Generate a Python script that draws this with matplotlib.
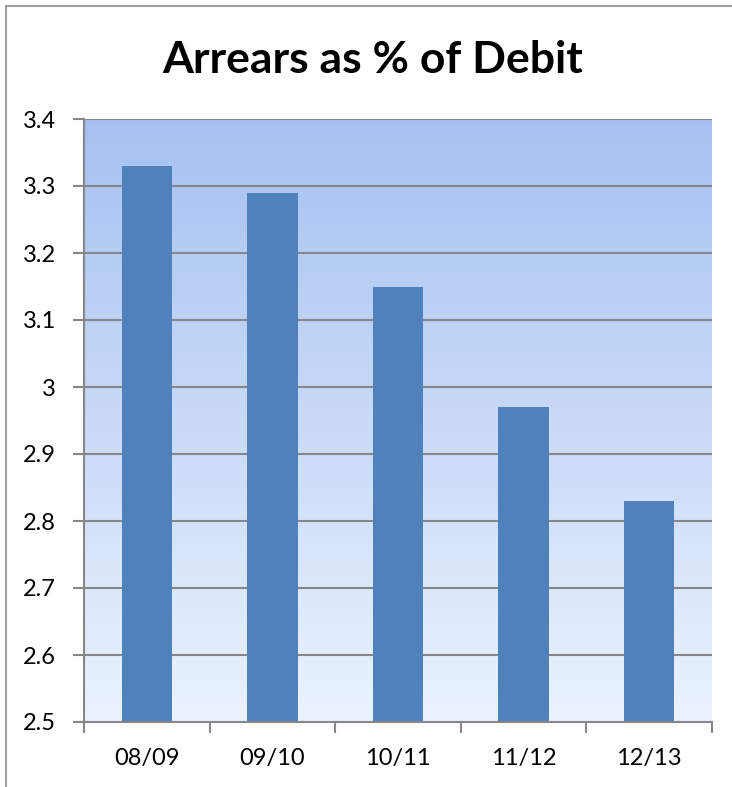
import numpy as np
import matplotlib.pyplot as plt
from matplotlib.lines import Line2D

categories = ["08/09", "09/10", "10/11", "11/12", "12/13"]
values = [3.33, 3.29, 3.15, 2.97, 2.83]
yticks = [2.5, 2.6, 2.7, 2.8, 2.9, 3.0, 3.1, 3.2, 3.3, 3.4]
ytick_labels = ["2.5", "2.6", "2.7", "2.8", "2.9", "3", "3.1", "3.2", "3.3", "3.4"]

BAR = "#4f81bd"
GRID = "#878787"
W, H = 732, 787

plt.rcParams["font.family"] = ["Lato", "DejaVu Sans"]

fig = plt.figure(figsize=(W / 100, H / 100), dpi=100)
ax = fig.add_axes([84 / W, (H - 722) / H, 628 / W, 603 / H])

# gradient background of the plot area
grad = np.linspace(0, 1, 256).reshape(-1, 1)
top = np.array([166, 193, 240]) / 255
bottom = np.array([235, 243, 254]) / 255
img = bottom + (top - bottom) * grad
ax.imshow(img[:, None, :].repeat(2, axis=1), extent=[0, 1, 0, 1], transform=ax.transAxes,
          origin="lower", aspect="auto", zorder=0)

x = np.arange(len(categories))
ax.bar(x, [v - 2.5 for v in values], bottom=2.5, width=0.4, color=BAR, zorder=3)

ax.set_xlim(-0.5, len(categories) - 0.5)
ax.set_ylim(2.5, 3.4)
ax.set_yticks(yticks)
ax.set_yticklabels(ytick_labels, fontsize=17)
ax.yaxis.grid(True, color=GRID, linewidth=1.5)
ax.set_axisbelow(False)
for gl in ax.get_ygridlines():
    gl.set_zorder(1)

ax.set_xticks(np.arange(-0.5, len(categories), 1.0))
ax.set_xticklabels([])
ax.set_xticks(x, minor=True)
ax.set_xticklabels(categories, minor=True, fontsize=17)
ax.tick_params(axis="x", which="major", length=8, width=1.5, color=GRID, direction="out")
ax.tick_params(axis="x", which="minor", length=0, pad=19)
ax.tick_params(axis="y", length=8, width=1.5, color=GRID, pad=12)

for side in ["top", "right"]:
    ax.spines[side].set_visible(False)
for side in ["left", "bottom"]:
    ax.spines[side].set_color(GRID)
    ax.spines[side].set_linewidth(1.5)
    ax.spines[side].set_zorder(4)

fig.text(373 / W, 1 - 60 / H, "Arrears as % of Debit", ha="center", va="center",
         fontsize=32, fontweight="bold")

# outer chart border
fig.add_artist(Line2D([6 / W, 6 / W], [0, 1 - 6 / H], color="#a0a0a0", linewidth=1.5))
fig.add_artist(Line2D([6 / W, 1], [1 - 6 / H, 1 - 6 / H], color="#a0a0a0", linewidth=1.5))

fig.savefig("out.png", dpi=100)
